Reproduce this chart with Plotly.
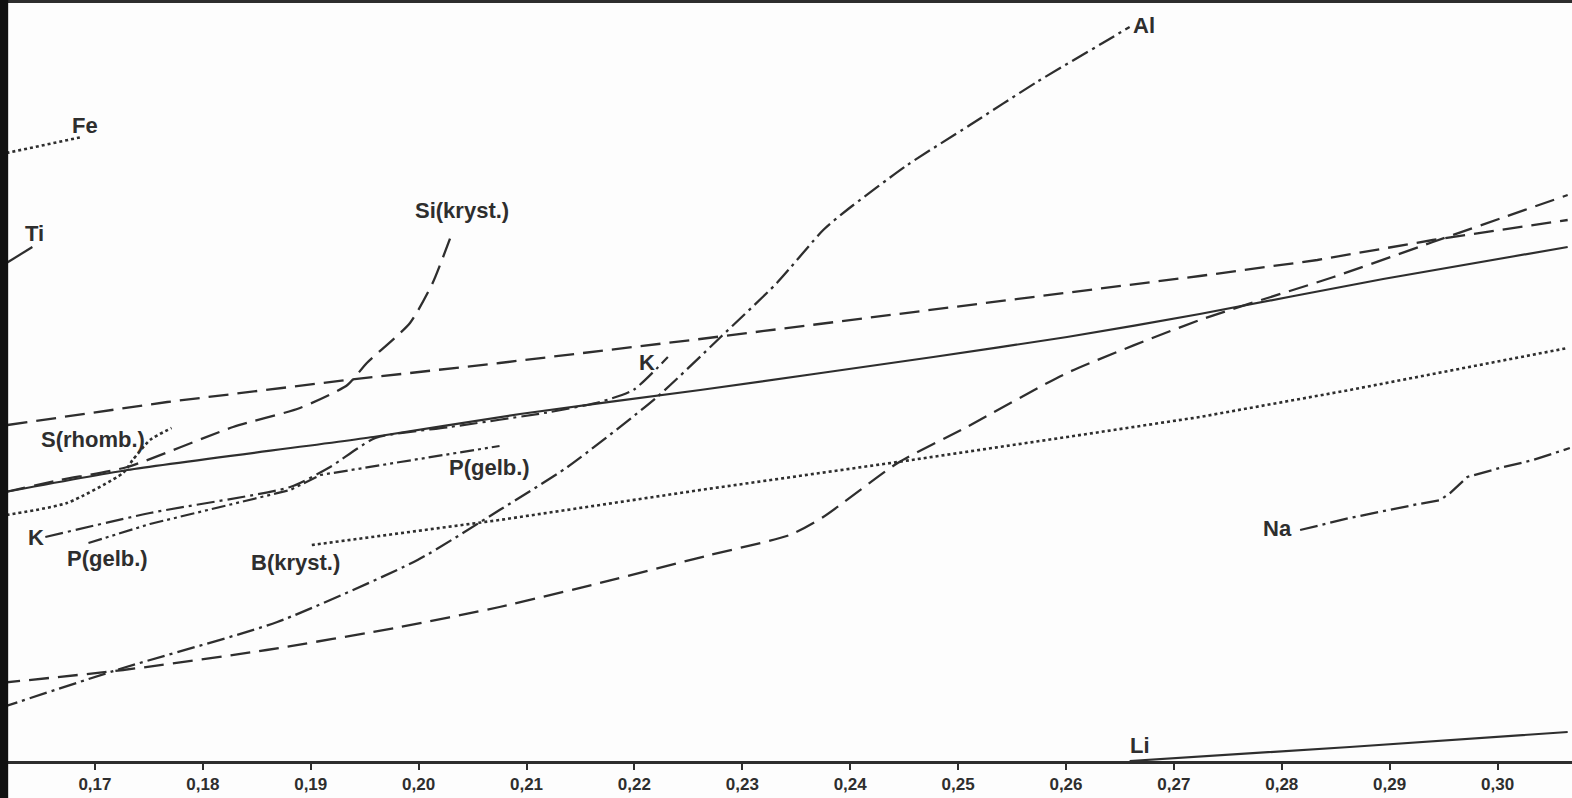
import plotly.graph_objects as go

# ---- axis ticks ----
tick_vals = [0.17, 0.18, 0.19, 0.20, 0.21, 0.22, 0.23, 0.24, 0.25, 0.26, 0.27, 0.28, 0.29, 0.30]
tick_text = ["0,17", "0,18", "0,19", "0,20", "0,21", "0,22", "0,23", "0,24",
             "0,25", "0,26", "0,27", "0,28", "0,29", "0,30"]

# ---- curves (x in axis units, y in arbitrary units) ----
fe_x = [0.1618, 0.1654, 0.1688]
fe_y = [608, 616, 624]

ti_x = [0.1618, 0.1642]
ti_y = [498, 514]

s_x = [0.1618, 0.1674, 0.1726, 0.1735, 0.1751, 0.1771]
s_y = [246, 258, 288, 301, 321, 333]

si_x = [0.1617, 0.1668, 0.1730, 0.1828, 0.1890, 0.1934, 0.1952, 0.1992, 0.2013, 0.2032]
si_y = [269, 281, 294, 334, 353, 376, 398, 438, 478, 531]

a_x = [0.1619, 0.1767, 0.1934, 0.2075, 0.2261, 0.2446, 0.2601, 0.2724, 0.2833, 0.2940, 0.3065]
a_y = [336, 359, 381, 398, 422, 447, 468, 485, 501, 521, 541]

b_x = [0.1612, 0.1730, 0.1958, 0.2094, 0.2261, 0.2477, 0.2601, 0.2724, 0.2894, 0.3065]
b_y = [268, 291, 324, 347, 371, 404, 424, 447, 482, 514]

c_x = [0.1612, 0.1726, 0.1859, 0.1983, 0.2075, 0.2168, 0.2270, 0.2344, 0.2375,
       0.2444, 0.2508, 0.2601, 0.2724, 0.2848, 0.2940, 0.3065]
c_y = [78, 91, 111, 134, 154, 178, 206, 226, 244, 298, 334, 388, 441, 484, 519, 566]

bk_x = [0.1901, 0.2075, 0.2261, 0.2444, 0.2601, 0.2724, 0.2863, 0.3065]
bk_y = [216, 241, 271, 299, 324, 344, 371, 413]

al_x = [0.1612, 0.1726, 0.1869, 0.1999, 0.2075, 0.2138, 0.2221, 0.2279, 0.2332,
        0.2375, 0.2397, 0.2453, 0.2511, 0.2573, 0.2634, 0.2659]
al_y = [53, 93, 139, 201, 251, 294, 364, 423, 478, 531, 551, 596, 636, 679, 718, 734]

k_x = [0.1654, 0.1751, 0.1881, 0.1918, 0.1960, 0.2029, 0.2122, 0.2168, 0.2199, 0.2231]
k_y = [224, 248, 274, 294, 323, 334, 349, 359, 371, 404]

p_x = [0.1694, 0.1751, 0.1881, 0.1909, 0.1983, 0.2075]
p_y = [218, 237, 271, 286, 299, 315]

na_x = [0.2817, 0.2863, 0.2922, 0.2947, 0.2956, 0.2972, 0.3002, 0.3033, 0.3067]
na_y = [231, 243, 256, 261, 268, 284, 293, 301, 313]

li_x = [0.2659, 0.2863, 0.3065]
li_y = [0, 14, 29]

# ---- labels ----
label_text = ["Fe", "Ti", "Si(kryst.)", "S(rhomb.)", "K", "P(gelb.)", "K",
              "P(gelb.)", "B(kryst.)", "Al", "Na", "Li"]
label_x = [0.1691, 0.1644, 0.2040, 0.1698, 0.2212, 0.2066, 0.1645,
           0.1712, 0.1886, 0.2672, 0.2796, 0.2669]
label_y = [636, 528, 551, 322, 399, 294, 224, 203, 199, 736, 233, 16]

INK = "#2e2e2e"
DASH = "20px,9px"
DASHDOT = "18px,5px,3px,5px"
DASHDOTDOT = "14px,4px,3px,4px,3px,4px"
DOT = "3px,3px"

series = [
    (fe_x, fe_y, DOT, "linear", 2.6),
    (ti_x, ti_y, "solid", "linear", 2.2),
    (s_x, s_y, DOT, "spline", 2.6),
    (si_x, si_y, DASH, "spline", 2.3),
    (a_x, a_y, DASH, "linear", 2.3),
    (b_x, b_y, "solid", "spline", 2.2),
    (c_x, c_y, DASH, "spline", 2.3),
    (bk_x, bk_y, DOT, "linear", 2.6),
    (al_x, al_y, DASHDOT, "spline", 2.3),
    (k_x, k_y, DASHDOT, "spline", 2.2),
    (p_x, p_y, DASHDOTDOT, "linear", 2.2),
    (na_x, na_y, DASHDOT, "linear", 2.3),
    (li_x, li_y, "solid", "linear", 2.2),
]

FONT = "Liberation Sans, Arial, sans-serif"

fig = go.Figure()
for xs, ys, dash, shape, w in series:
    line = dict(color=INK, width=w, dash=dash, shape=shape)
    if shape == "spline":
        line["smoothing"] = 0.6
    fig.add_trace(go.Scatter(x=xs, y=ys, mode="lines", line=line,
                             hoverinfo="skip", showlegend=False))

for t, x, y in zip(label_text, label_x, label_y):
    fig.add_annotation(x=x, y=y, text="<b>%s</b>" % t, showarrow=False,
                       xanchor="center", yanchor="middle",
                       font=dict(family=FONT, size=22, color=INK))

# dark scan margin on the left
fig.add_shape(type="rect", xref="paper", yref="paper",
              x0=0, x1=0.0052, y0=-0.06, y1=1.01,
              fillcolor="#111111", line=dict(width=0), layer="above")

fig.update_layout(
    width=1572, height=798, autosize=False,
    margin=dict(l=0, r=0, t=3, b=37),
    paper_bgcolor="#fdfdfd", plot_bgcolor="#fdfdfd",
    showlegend=False,
    xaxis=dict(range=[0.1612, 0.3069], tickmode="array", tickvals=tick_vals,
               ticktext=["<b>%s</b>" % t for t in tick_text],
               showgrid=False, zeroline=False, showline=True, mirror=True,
               linecolor=INK, linewidth=2.5, ticks="outside", ticklen=6,
               tickwidth=2, tickcolor=INK,
               tickfont=dict(family=FONT, size=17, color=INK)),
    yaxis=dict(range=[0, 758], showgrid=False, zeroline=False, showline=False,
               showticklabels=False, ticks=""),
)

fig.write_html("out.html", config={"displayModeBar": False},
               post_script="document.body.style.margin='0';document.body.style.overflow='hidden';")
